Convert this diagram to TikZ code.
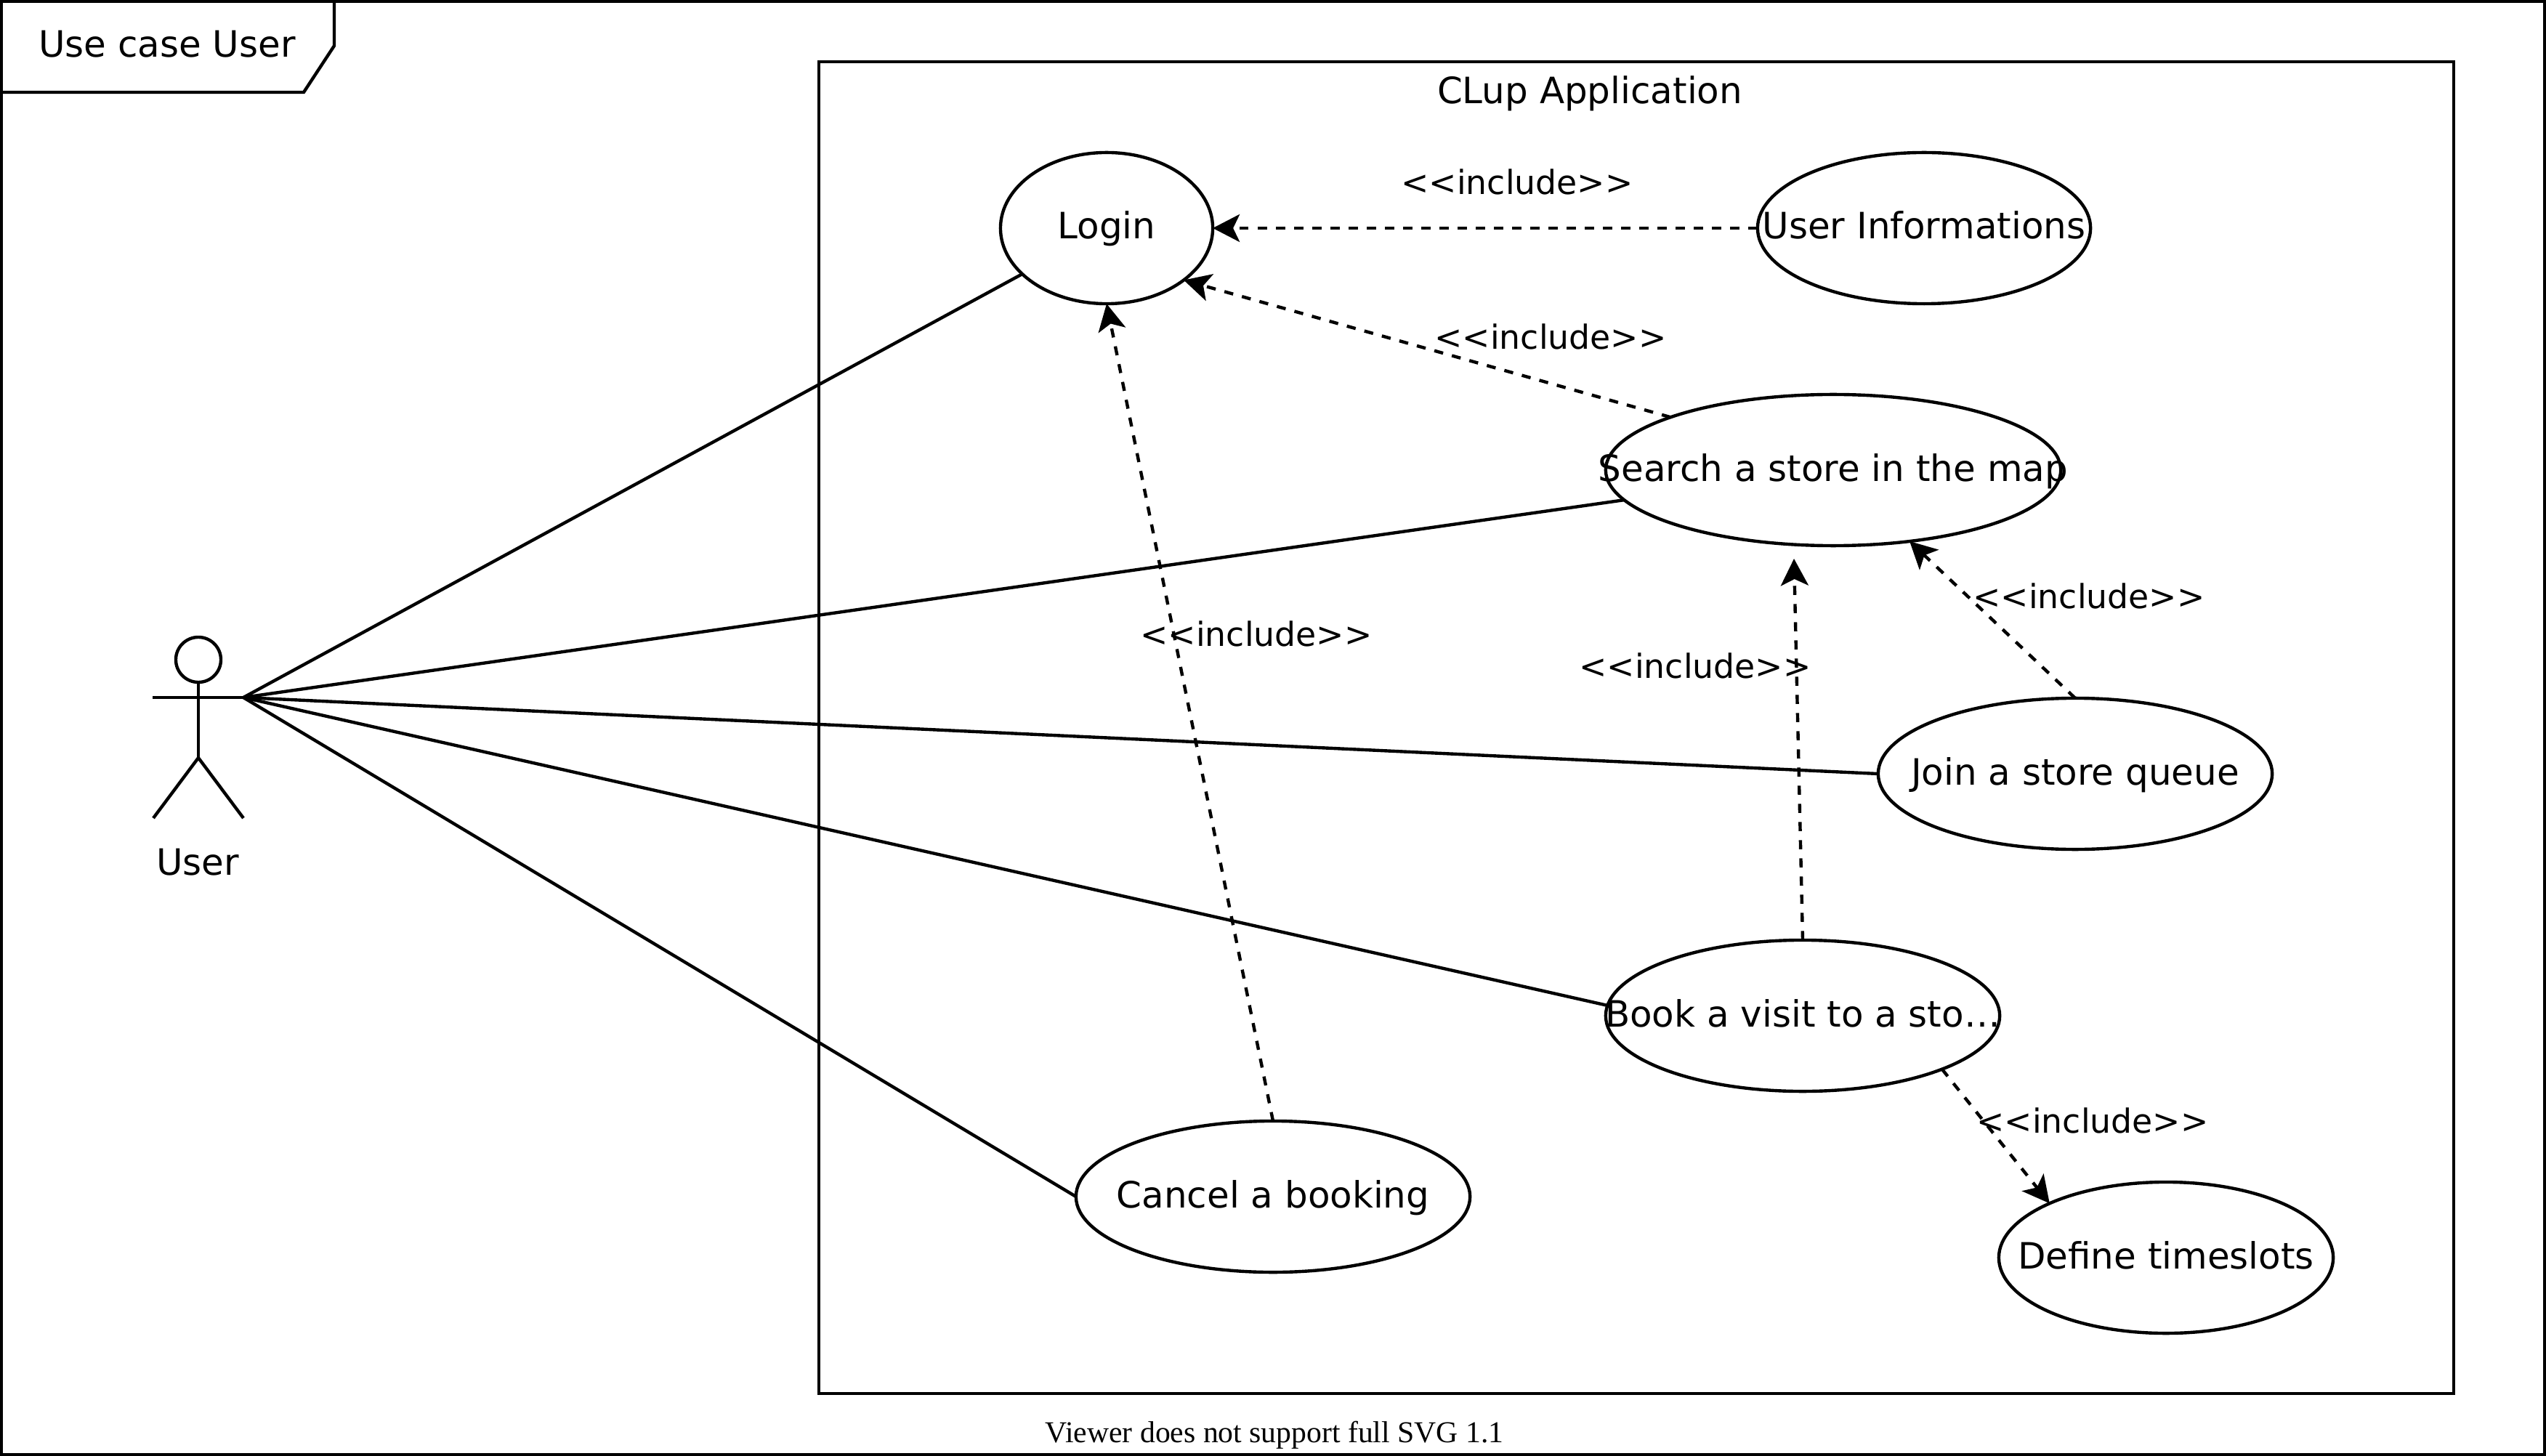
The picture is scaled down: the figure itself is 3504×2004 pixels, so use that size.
\documentclass[tikz,border=0pt]{standalone}
\usepackage{fontspec}
\usetikzlibrary{arrows.meta, shapes.geometric}
\setmainfont{DejaVu Sans}
\newfontfamily\viewerfont{Liberation Serif}
\newcommand{\ucname}[1]{\makebox[0pt]{#1}}

\begin{document}
\begin{tikzpicture}[x = 0.01cm, y = -0.01cm, line width = 1.25pt]
\tikzstyle{UseCaseStyle}=[shape = ellipse,
                         draw,
                         fill = white,
                         inner sep = 0pt,
                         outer sep = 0pt,
                         minimum height = 2.08cm,
                         text height = 0.40cm,
                         text depth = 0.1cm,
                         font = \fontsize{14.2pt}{17pt}\selectfont]
\tikzstyle{IncludeStyle}=[inner sep = 0pt,
                         text height = 0.44cm,
                         text depth = 0.10cm,
                         font = \fontsize{13pt}{16pt}\selectfont]
\tikzstyle{TitleStyle}=[inner sep = 0pt,
                         anchor = base,
                         font = \fontsize{14.2pt}{17pt}\selectfont]
\tikzstyle{DepStyle}=[dash pattern = on 0.125cm off 0.125cm,
                         -{Stealth[length = 0.37cm, width = 0.38cm, inset = 0.09cm]}]
\useasboundingbox (0,0) rectangle (3504,2004);
\draw (2,2) rectangle (3502,2002);
\draw (2,127) -- (418,127) -- (460,63) -- (460,2);
\draw (1127,85) rectangle (3377,1918);
\node[TitleStyle] (frameTitle) at (230,79) {Use case User};
\node[TitleStyle] (systemTitle) at (2188,143) {CLup Application};
\node[draw, circle, inner sep = 0pt, minimum size = 0.62cm] (head) at (273,908) {};
\coordinate (handL) at (210,960);
\coordinate (handR) at (335,960);
\coordinate (hip) at (273,1043);
\coordinate (footL) at (211,1126);
\coordinate (footR) at (335,1126);
\draw (head) -- (hip);
\draw (handL) -- (handR);
\draw (footL) -- (hip) -- (footR);
\node[TitleStyle] (user) at (272,1204) {User};
\node[UseCaseStyle, minimum width = 2.92cm] (login) at (1523,314) {\ucname{Login}};
\node[UseCaseStyle, minimum width = 4.58cm] (userInfo) at (2648,314) {\ucname{User Informations}};
\node[UseCaseStyle, minimum width = 6.26cm] (search) at (2523,647) {\ucname{Search a store in the map}};
\node[UseCaseStyle, minimum width = 5.42cm] (join) at (2856,1065) {\ucname{Join a store queue}};
\node[UseCaseStyle, minimum width = 5.42cm] (book) at (2481,1398) {\ucname{Book a visit to a sto…}};
\node[UseCaseStyle, minimum width = 5.42cm] (cancel) at (1752,1647) {\ucname{Cancel a booking}};
\node[UseCaseStyle, minimum width = 4.60cm] (define) at (2981,1731) {\ucname{Define timeslots}};
\coordinate (searchIn) at (2469,769);
\draw (handR) -- (login);
\draw (handR) -- (search);
\draw (handR) -- (join.west);
\draw (handR) -- (book.177);
\draw (handR) -- (cancel.west);
\draw[DepStyle] (userInfo.west) -- (login.east);
\draw[DepStyle] (search.162) -- (login.-34);
\draw[DepStyle] (cancel.north) -- (login.south);
\draw[DepStyle] (join.north) -- (search.-43);
\draw[DepStyle] (book.north) -- (searchIn);
\draw[DepStyle] (book.-21) -- (define.155);
\node[IncludeStyle] (inc1) at (2088,250) {<{}<include>{}>};
\node[IncludeStyle] (inc2) at (2134,463) {<{}<include>{}>};
\node[IncludeStyle] (inc3) at (1729,872) {<{}<include>{}>};
\node[IncludeStyle] (inc4) at (2875,820) {<{}<include>{}>};
\node[IncludeStyle] (inc5) at (2333,916) {<{}<include>{}>};
\node[IncludeStyle] (inc6) at (2880,1542) {<{}<include>{}>};
\node[inner sep = 0pt, anchor = base, font = \viewerfont\fontsize{11.85pt}{14pt}\selectfont] (viewerNote) at (1754,1985) {Viewer does not support full SVG 1.1};
\end{tikzpicture}
\end{document}
